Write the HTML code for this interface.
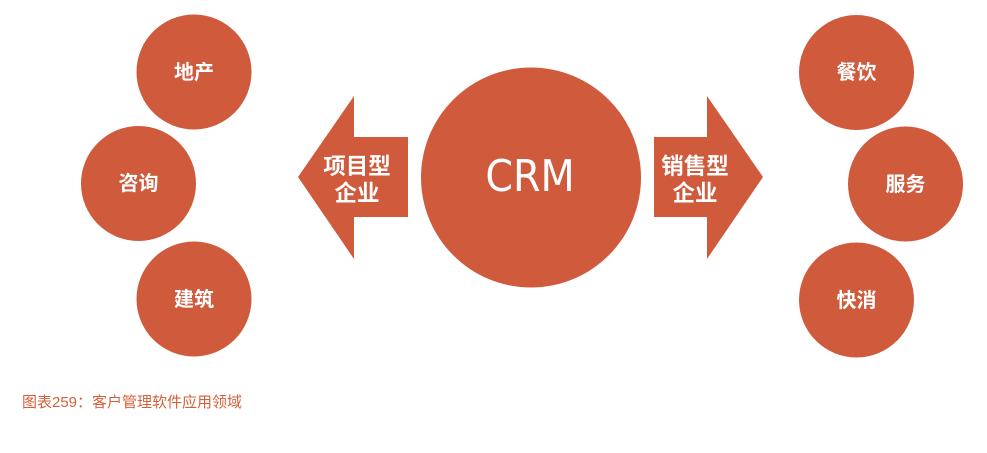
<!DOCTYPE html>
<html>
<head>
<meta charset="utf-8">
<style>
  html, body { margin: 0; padding: 0; background: #ffffff; }
  body { width: 987px; height: 453px; overflow: hidden; position: relative; }
  svg { position: absolute; left: 0; top: 0; }
  .cjk { font-family: "Liberation Sans", "Noto Sans CJK SC", sans-serif; }
</style>
</head>
<body>
<svg width="987" height="453" viewBox="0 0 987 453" xmlns="http://www.w3.org/2000/svg">
  <g fill="#D05A3C">
    <circle cx="194" cy="72" r="57.5"/>
    <circle cx="138.5" cy="183.5" r="57.5"/>
    <circle cx="194" cy="299" r="57.5"/>
    <circle cx="856.5" cy="72.5" r="57.5"/>
    <circle cx="905.5" cy="184" r="57.5"/>
    <circle cx="856.5" cy="300" r="57.5"/>
    <circle cx="531" cy="177.5" r="110"/>
    <polygon points="298,177 354,96 354,137 408,137 408,217 354,217 354,259"/>
    <polygon points="763,177 707,96 707,137 654,137 654,217 707,217 707,259"/>
  </g>

  <g class="cjk" fill="#ffffff" font-weight="bold" font-size="20" text-anchor="middle">
    <text x="194" y="79">地产</text>
    <text x="138.5" y="190">咨询</text>
    <text x="194" y="306">建筑</text>
    <text x="856.5" y="79">餐饮</text>
    <text x="905.5" y="191">服务</text>
    <text x="856.5" y="307">快消</text>
  </g>

  <g class="cjk" fill="#ffffff" font-weight="bold" font-size="22.5" text-anchor="middle">
    <text x="357" y="174">项目型</text>
    <text x="357" y="201">企业</text>
    <text x="695" y="174">销售型</text>
    <text x="695" y="201">企业</text>
  </g>

  <text x="530" y="191" fill="#ffffff" font-family="'DejaVu Sans', 'Liberation Sans', sans-serif" font-size="44" text-anchor="middle" transform="translate(530 0) scale(0.9 1) translate(-530 0)">CRM</text>

  <text class="cjk" x="22" y="407" fill="#D4603A" font-size="15">图表259：客户管理软件应用领域</text>
</svg>
</body>
</html>
